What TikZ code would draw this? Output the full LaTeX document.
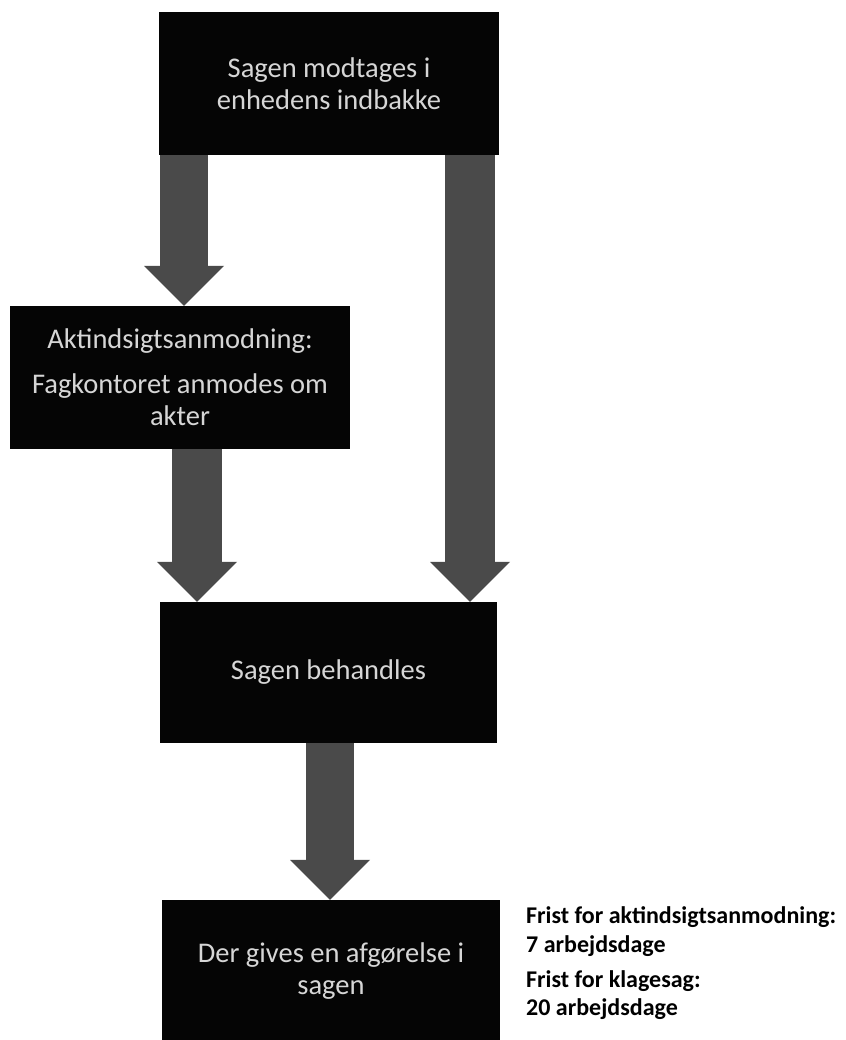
\documentclass[tikz,border=0pt]{standalone}
\usepackage{fontspec}
\setmainfont{Carlito}
\usetikzlibrary{arrows.meta}
\definecolor{boxfill}{HTML}{050505}
\definecolor{arrowgray}{HTML}{4A4A4A}
\definecolor{boxtext}{HTML}{D6D6D6}
\begin{document}
\begin{tikzpicture}[x=1pt,y=-1pt,
  stepbox/.style={fill=boxfill, draw=none, text=boxtext, align=center, inner sep=0pt,
    font=\fontsize{28.5}{32}\selectfont},
  bigarrow/.style={draw=arrowgray, line width=48pt,
    -{Triangle[width=80pt,length=40pt,line width=0pt]}},
  note/.style={anchor=base west, inner sep=0pt, text=black,
    font=\bfseries\fontsize{24}{29}\selectfont}]
\useasboundingbox (0,0) rectangle (845,1040);

\node[stepbox, minimum width=340pt, minimum height=143pt] (top) at (329,83.5)
  {Sagen modtages i\\enhedens indbakke};
\node[stepbox, minimum width=340pt, minimum height=143pt] (akt) at (180,377.5)
  {Aktindsigtsanmodning:\\[13pt]Fagkontoret anmodes om\\akter};
\node[stepbox, minimum width=337pt, minimum height=141pt] (beh) at (328.5,672.5)
  {Sagen behandles};
\node[stepbox, minimum width=338pt, minimum height=143pt] (afg) at (331,971.5)
  {Der gives en afgørelse i\\sagen};

\coordinate (xl) at (184,0);
\coordinate (xr) at (470,0);
\coordinate (xm) at (197,0);
\coordinate (xb) at (330,0);

\draw[bigarrow] (top.south -| xl) -- (akt.north -| xl);
\draw[bigarrow, line width=50pt] (top.south -| xr) -- (beh.north -| xr);
\draw[bigarrow, line width=50pt] (akt.south -| xm) -- (beh.north -| xm);
\draw[bigarrow] (beh.south -| xb) -- (afg.north -| xb);

\node[note] (f1) at (526,923) {Frist for aktindsigtsanmodning:};
\node[note] (f2) at (526,952) {7 arbejdsdage};
\node[note] (f3) at (526,987) {Frist for klagesag:};
\node[note] (f4) at (526,1015) {20 arbejdsdage};
\end{tikzpicture}
\end{document}
